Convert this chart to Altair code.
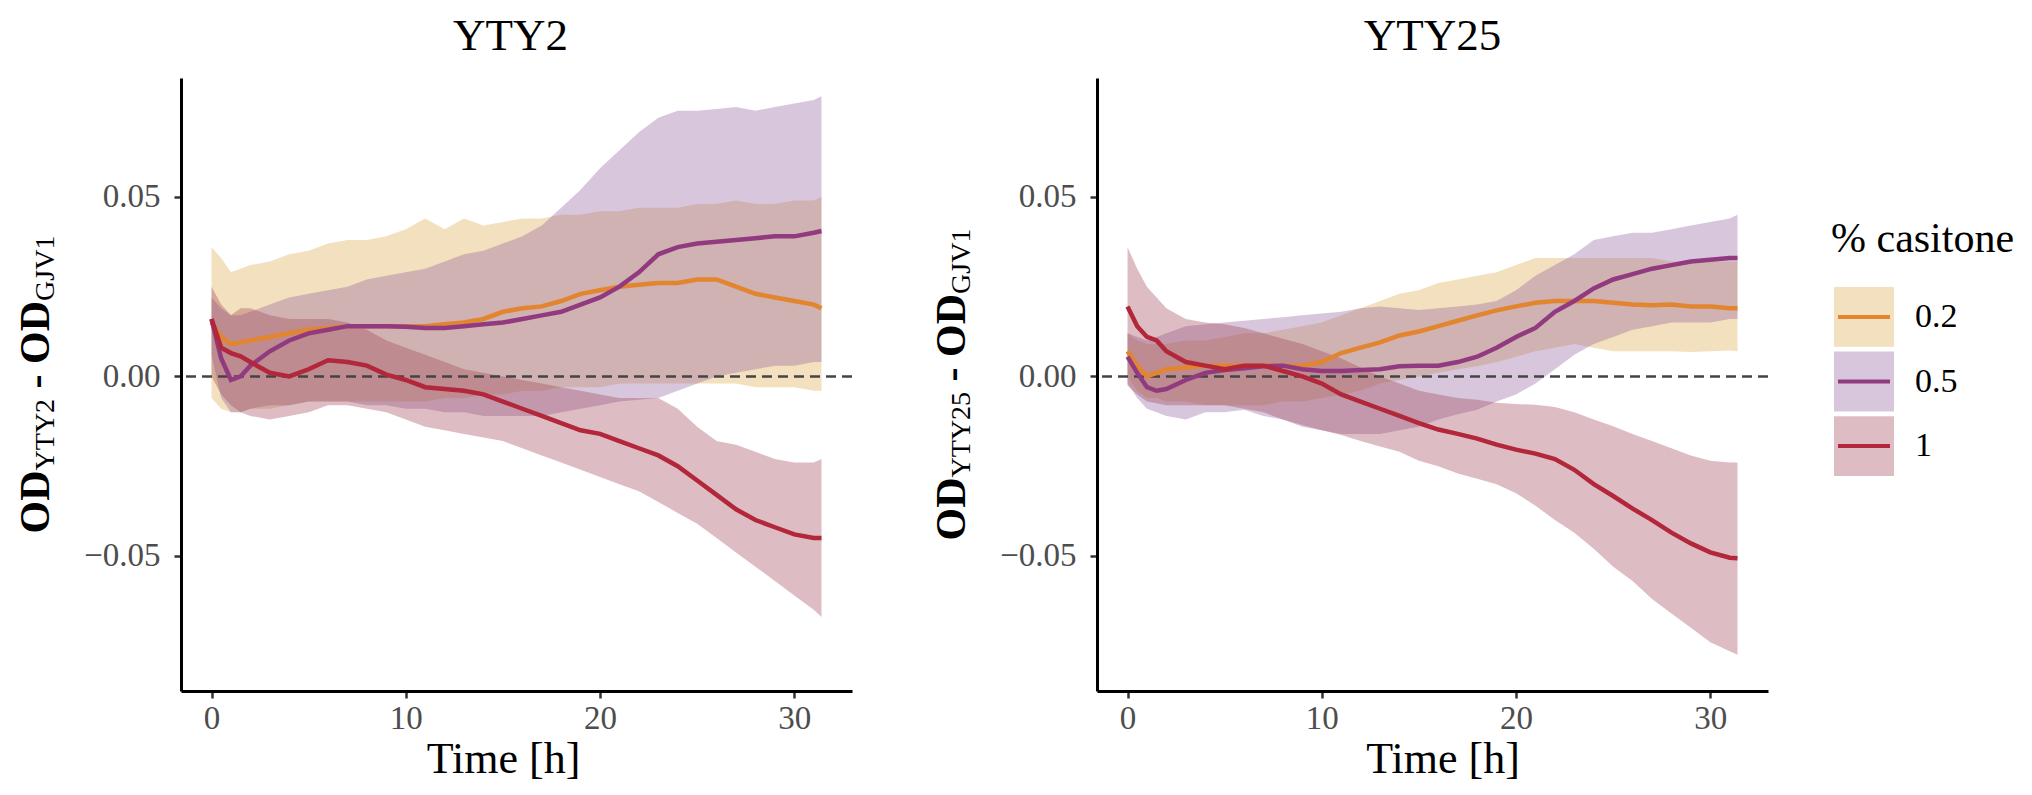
import altair as alt
import pandas as pd

FONT = "Liberation Serif"

# ---------------- data ----------------
TIME = [0, 0.5, 1, 1.5, 2, 3, 4, 5, 6, 7, 8, 9, 10, 11, 12, 13, 14, 15, 16, 17,
        18, 19, 20, 21, 22, 23, 24, 25, 26, 27, 28, 29, 30, 31, 31.4]

CASITONE = ["0.2", "0.5", "1"]
LINE_COLORS = ["#E3852E", "#923A80", "#B2273A"]
RIBBON_COLORS = ["#DDA645", "#8D5C9B", "#9E4354"]

# YTY2 panel
Y2_M02 = [0.015, 0.011, 0.009, 0.0095, 0.010, 0.011, 0.012, 0.013, 0.0135, 0.014, 0.014, 0.014, 0.014, 0.014, 0.0145, 0.015, 0.016, 0.018, 0.019, 0.0195, 0.021, 0.023, 0.024, 0.025, 0.0255, 0.026, 0.026, 0.027, 0.027, 0.025, 0.023, 0.022, 0.021, 0.020, 0.019]
Y2_L02 = [-0.006, -0.009, -0.010, -0.010, -0.009, -0.009, -0.008, -0.007, -0.007, -0.007, -0.007, -0.007, -0.007, -0.007, -0.006, -0.006, -0.005, -0.005, -0.004, -0.004, -0.003, -0.003, -0.003, -0.002, -0.002, -0.002, -0.002, -0.002, -0.002, -0.002, -0.003, -0.003, -0.003, -0.004, -0.004]
Y2_H02 = [0.036, 0.033, 0.029, 0.030, 0.031, 0.032, 0.034, 0.035, 0.037, 0.038, 0.038, 0.039, 0.041, 0.044, 0.041, 0.044, 0.042, 0.043, 0.044, 0.044, 0.045, 0.045, 0.046, 0.046, 0.047, 0.047, 0.047, 0.048, 0.048, 0.049, 0.048, 0.048, 0.049, 0.049, 0.050]
Y2_M05 = [0.016, 0.005, -0.001, 0.000, 0.003, 0.007, 0.010, 0.012, 0.013, 0.014, 0.014, 0.014, 0.0138, 0.0135, 0.0135, 0.014, 0.0145, 0.015, 0.016, 0.017, 0.018, 0.020, 0.022, 0.025, 0.029, 0.034, 0.036, 0.037, 0.0375, 0.038, 0.0385, 0.039, 0.039, 0.040, 0.0405]
Y2_L05 = [0.006, -0.006, -0.010, -0.010, -0.009, -0.008, -0.008, -0.007, -0.007, -0.007, -0.008, -0.008, -0.009, -0.009, -0.010, -0.010, -0.011, -0.011, -0.011, -0.011, -0.010, -0.009, -0.008, -0.007, -0.0065, -0.006, -0.004, -0.002, 0.000, 0.001, 0.002, 0.003, 0.003, 0.004, 0.004]
Y2_H05 = [0.022, 0.019, 0.017, 0.017, 0.018, 0.020, 0.022, 0.023, 0.024, 0.025, 0.027, 0.028, 0.029, 0.030, 0.032, 0.034, 0.035, 0.037, 0.039, 0.042, 0.047, 0.052, 0.058, 0.063, 0.068, 0.072, 0.074, 0.074, 0.0745, 0.075, 0.074, 0.075, 0.076, 0.077, 0.078]
Y2_M1 = [0.016, 0.008, 0.0065, 0.0056, 0.004, 0.001, 0.000, 0.002, 0.0045, 0.004, 0.003, 0.0005, -0.001, -0.003, -0.0035, -0.004, -0.005, -0.007, -0.009, -0.011, -0.013, -0.015, -0.016, -0.018, -0.020, -0.022, -0.025, -0.029, -0.033, -0.037, -0.040, -0.042, -0.044, -0.045, -0.045]
Y2_L1 = [0.000, -0.005, -0.008, -0.010, -0.011, -0.012, -0.011, -0.010, -0.008, -0.008, -0.009, -0.010, -0.012, -0.014, -0.015, -0.016, -0.017, -0.018, -0.020, -0.022, -0.024, -0.026, -0.028, -0.030, -0.032, -0.035, -0.038, -0.041, -0.045, -0.049, -0.053, -0.057, -0.061, -0.065, -0.067]
Y2_H1 = [0.025, 0.020, 0.017, 0.019, 0.019, 0.017, 0.016, 0.016, 0.016, 0.015, 0.013, 0.010, 0.008, 0.006, 0.004, 0.002, 0.001, 0.000, -0.001, -0.002, -0.003, -0.004, -0.005, -0.006, -0.006, -0.006, -0.009, -0.014, -0.018, -0.019, -0.021, -0.023, -0.024, -0.024, -0.023]

# YTY25 panel
Y25_M02 = [0.007, 0.003, 0.000, 0.001, 0.002, 0.0025, 0.003, 0.003, 0.003, 0.003, 0.003, 0.003, 0.004, 0.0065, 0.008, 0.0095, 0.0114, 0.0125, 0.014, 0.0155, 0.017, 0.0184, 0.0195, 0.0205, 0.021, 0.021, 0.021, 0.0205, 0.020, 0.0198, 0.020, 0.0195, 0.0195, 0.019, 0.019]
Y25_L02 = [0.000, -0.004, -0.006, -0.006, -0.007, -0.007, -0.008, -0.008, -0.008, -0.008, -0.007, -0.007, -0.006, -0.005, -0.004, -0.002, -0.001, 0.000, 0.001, 0.002, 0.0028, 0.004, 0.0055, 0.007, 0.008, 0.009, 0.008, 0.007, 0.007, 0.007, 0.007, 0.0068, 0.007, 0.0072, 0.007]
Y25_H02 = [0.012, 0.010, 0.009, 0.009, 0.009, 0.010, 0.010, 0.011, 0.012, 0.012, 0.013, 0.014, 0.015, 0.017, 0.019, 0.021, 0.023, 0.024, 0.026, 0.027, 0.028, 0.029, 0.031, 0.033, 0.033, 0.033, 0.033, 0.033, 0.033, 0.033, 0.032, 0.032, 0.032, 0.032, 0.032]
Y25_M05 = [0.0055, 0.001, -0.003, -0.004, -0.0035, -0.001, 0.001, 0.0018, 0.0023, 0.0028, 0.003, 0.002, 0.0015, 0.0015, 0.0018, 0.002, 0.0028, 0.003, 0.003, 0.004, 0.0055, 0.008, 0.011, 0.0135, 0.018, 0.021, 0.0245, 0.027, 0.0285, 0.030, 0.031, 0.032, 0.0325, 0.033, 0.033]
Y25_L05 = [-0.002, -0.006, -0.009, -0.010, -0.011, -0.012, -0.010, -0.010, -0.0093, -0.011, -0.012, -0.014, -0.015, -0.016, -0.016, -0.016, -0.015, -0.014, -0.012, -0.0105, -0.0093, -0.007, -0.005, -0.002, 0.002, 0.006, 0.009, 0.011, 0.013, 0.014, 0.015, 0.015, 0.015, 0.016, 0.016]
Y25_H05 = [0.012, 0.011, 0.010, 0.011, 0.012, 0.014, 0.0145, 0.015, 0.0155, 0.016, 0.0165, 0.017, 0.0175, 0.018, 0.019, 0.0195, 0.019, 0.0185, 0.019, 0.0195, 0.020, 0.021, 0.024, 0.028, 0.031, 0.034, 0.038, 0.039, 0.040, 0.040, 0.041, 0.042, 0.043, 0.044, 0.045]
Y25_M1 = [0.0195, 0.014, 0.011, 0.010, 0.007, 0.004, 0.003, 0.002, 0.003, 0.003, 0.0015, 0.000, -0.002, -0.005, -0.007, -0.009, -0.011, -0.013, -0.0148, -0.016, -0.0173, -0.019, -0.0204, -0.0215, -0.023, -0.026, -0.030, -0.0333, -0.0368, -0.040, -0.0435, -0.0465, -0.049, -0.0505, -0.0506]
Y25_L1 = [-0.0025, -0.005, -0.007, -0.0075, -0.008, -0.008, -0.008, -0.008, -0.009, -0.010, -0.012, -0.0135, -0.015, -0.0163, -0.018, -0.0195, -0.021, -0.0235, -0.025, -0.027, -0.0285, -0.030, -0.0325, -0.036, -0.040, -0.0435, -0.048, -0.053, -0.057, -0.062, -0.066, -0.070, -0.074, -0.0765, -0.0775]
Y25_H1 = [0.036, 0.030, 0.025, 0.022, 0.019, 0.016, 0.015, 0.0145, 0.0135, 0.012, 0.0105, 0.009, 0.007, 0.005, 0.0025, 0.000, -0.002, -0.004, -0.005, -0.006, -0.0065, -0.0073, -0.0077, -0.0079, -0.0085, -0.010, -0.012, -0.0139, -0.016, -0.018, -0.020, -0.022, -0.0235, -0.024, -0.024]

X_TICKS = [0, 10, 20, 30]
Y_TICKS = [-0.05, 0.0, 0.05]
XDOM = [-1.57, 32.97]
YDOM = [-0.0876, 0.0831]

PLOT_W = 671
PLOT_H = 613


def long_frame(series):
    rows = []
    for cas, (m, lo, hi) in zip(CASITONE, series):
        for t, a, b, c in zip(TIME, m, lo, hi):
            rows.append({"time": t, "casitone": cas, "mean": a, "lo": b, "hi": c})
    return pd.DataFrame(rows)


DF2 = long_frame([(Y2_M02, Y2_L02, Y2_H02), (Y2_M05, Y2_L05, Y2_H05), (Y2_M1, Y2_L1, Y2_H1)])
DF25 = long_frame([(Y25_M02, Y25_L02, Y25_H02), (Y25_M05, Y25_L05, Y25_H05), (Y25_M1, Y25_L1, Y25_H1)])

FILL_SCALE = alt.Scale(domain=CASITONE, range=RIBBON_COLORS)
STROKE_SCALE = alt.Scale(domain=CASITONE, range=LINE_COLORS)

# Times-compatible advance widths (em) used to lay out the y-title pieces
BOLD_W = {"O": 0.778, "D": 0.722, " ": 0.25, "-": 0.333}
REG_W = {"Y": 0.722, "T": 0.611, "2": 0.5, "5": 0.5, "G": 0.722, "J": 0.389, "V": 0.722, "1": 0.5}
BIG = 42
SMALL = 28
TITLE_BASE_X = -132
SUB_SHIFT = 5


def wid(s, table, size):
    return sum(table[c] for c in s) * size


def y_title_layers(sub):
    pieces = [("OD", True, 0), (sub, False, SUB_SHIFT), ("-", True, 0), ("OD", True, 0), ("GJV1", False, SUB_SHIFT)]
    widths = []
    for txt, bold, _ in pieces:
        if txt == "-":
            widths.append(wid(" - ", BOLD_W, BIG))
        else:
            widths.append(wid(txt, BOLD_W if bold else REG_W, BIG if bold else SMALL))
    total = sum(widths)
    ypos = PLOT_H / 2 + total / 2
    layers = []
    for (txt, bold, shift), w in zip(pieces, widths):
        start = ypos
        if txt == "-":
            start = ypos - 0.25 * BIG
        layers.append(
            alt.Chart(pd.DataFrame({"t": [txt]}))
            .mark_text(angle=270, align="left", baseline="alphabetic", font=FONT,
                       fontSize=BIG if bold else SMALL,
                       fontWeight="bold" if bold else "normal", color="black")
            .encode(text="t:N", x=alt.value(TITLE_BASE_X + shift), y=alt.value(start))
        )
        ypos -= w
    return layers


def panel_layers(df, sub, title_x):
    base = alt.Chart(df)
    xenc = alt.X("time:Q", scale=alt.Scale(domain=XDOM, nice=False, zero=False),
                 axis=alt.Axis(values=X_TICKS, title="Time [h]", titleX=title_x, labelPadding=4,
                               titlePadding=2, labelFlush=False))
    yenc = alt.Y("lo:Q", scale=alt.Scale(domain=YDOM, nice=False, zero=False),
                 axis=alt.Axis(values=Y_TICKS, format=".2f", title=None, labelPadding=14))
    area = base.mark_area(fillOpacity=0.35).encode(
        x=xenc, y=yenc, y2="hi:Q",
        fill=alt.Fill("casitone:N", scale=FILL_SCALE, legend=None),
    )
    zero = alt.Chart(pd.DataFrame({"z": [0.0]})).mark_rule(
        color="#444444", strokeWidth=2.5, strokeDash=[10, 6]
    ).encode(y=alt.Y("z:Q", title=None))
    line = base.mark_line(strokeWidth=4.5).encode(
        x=alt.X("time:Q", title="Time [h]"),
        y=alt.Y("mean:Q", title=None),
        stroke=alt.Stroke("casitone:N", scale=STROKE_SCALE, legend=None),
    )
    return [area, zero, line] + y_title_layers(sub)


LEG_TOP = 209
LEG_BOTTOM = 398


def legend_layers():
    ldf = pd.DataFrame({"casitone": CASITONE})
    lscale = alt.Scale(domain=CASITONE, range=[LEG_TOP, LEG_BOTTOM], paddingInner=0.075, paddingOuter=0)
    rects = alt.Chart(ldf).mark_rect(fillOpacity=0.35).encode(
        x=alt.value(737), x2=alt.value(797),
        y=alt.Y("casitone:N", scale=lscale, axis=None),
        fill=alt.Fill("casitone:N", legend=None),
    )
    strokes = alt.Chart(ldf).mark_rule(strokeWidth=4).encode(
        x=alt.value(741), x2=alt.value(793),
        y=alt.Y("casitone:N", bandPosition=0.5, axis=None),
        stroke=alt.Stroke("casitone:N", legend=None),
    )
    labels = alt.Chart(ldf).mark_text(align="left", baseline="middle", font=FONT,
                                      fontSize=34, color="black").encode(
        x=alt.value(818),
        y=alt.Y("casitone:N", bandPosition=0.5, axis=None),
        text="casitone:N",
    )
    ltitle = alt.Chart(pd.DataFrame({"t": ["% casitone"]})).mark_text(
        align="left", baseline="alphabetic", font=FONT, fontSize=42, color="black"
    ).encode(text="t:N", x=alt.value(734), y=alt.value(LEG_TOP - 35))
    return [rects, strokes, labels, ltitle]


TITLE_OFFSET = -17

left = alt.layer(*panel_layers(DF2, "YTY2", 322)).properties(
    width=PLOT_W, height=PLOT_H,
    title=alt.TitleParams("YTY2", font=FONT, fontSize=45, fontWeight="normal", color="black",
                          frame="group", anchor="middle", baseline="alphabetic",
                          offset=TITLE_OFFSET, dx=-6),
)

right_main = alt.layer(*panel_layers(DF25, "YTY25", PLOT_W / 2 + 10))
right_leg = alt.layer(*legend_layers())
right = alt.layer(right_main, right_leg).resolve_scale(y="independent").properties(
    width=PLOT_W, height=PLOT_H,
    title=alt.TitleParams("YTY25", font=FONT, fontSize=45, fontWeight="normal", color="black",
                          frame="group", anchor="middle", baseline="alphabetic",
                          offset=TITLE_OFFSET),
)

chart = (
    alt.hconcat(left, right, spacing=76)
    .properties(padding={"left": 6, "top": 6, "right": 0, "bottom": 0})
    .configure_view(stroke=None)
    .configure_axis(
        grid=False, domainColor="black", domainWidth=3, tickColor="#333333", tickWidth=2.5,
        tickSize=7, labelFont=FONT, labelFontSize=33, labelColor="#4D4D4D",
        titleFont=FONT, titleFontSize=44, titleColor="black", titleFontWeight="normal",
    )
)

chart.save("out.html", embed_options={"renderer": "svg", "actions": False})
